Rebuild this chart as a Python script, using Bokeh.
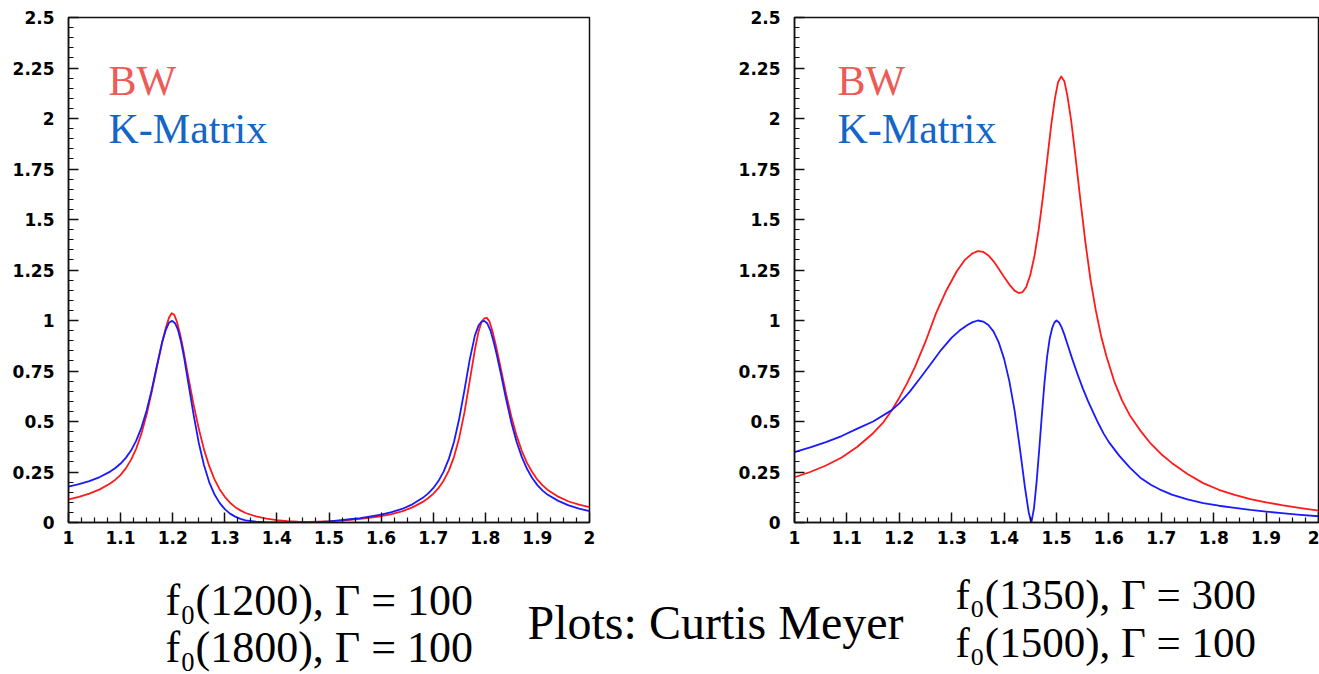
from bokeh.plotting import figure
from bokeh.models import Range1d, FixedTicker, PrintfTickFormatter
from bokeh.layouts import column, row
from bokeh.core.properties import value
from bokeh.embed import file_html
from bokeh.resources import INLINE

# ---------------- data ----------------
x_ticks = [1.0, 1.1, 1.2, 1.3, 1.4, 1.5, 1.6, 1.7, 1.8, 1.9, 2.0]
y_ticks = [0.0, 0.25, 0.5, 0.75, 1.0, 1.25, 1.5, 1.75, 2.0, 2.25, 2.5]

# Left panel: f0(1200), f0(1800), both Gamma = 100
left_bw_x = [1.00, 1.02, 1.04, 1.06, 1.08, 1.09, 1.10, 1.11, 1.12, 1.13,
             1.14, 1.15, 1.16, 1.17, 1.18, 1.187, 1.193, 1.198, 1.203, 1.208,
             1.214, 1.22, 1.23, 1.24, 1.25, 1.26, 1.27, 1.28, 1.29, 1.30,
             1.31, 1.32, 1.33, 1.34, 1.36, 1.38, 1.40, 1.42, 1.44, 1.46,
             1.48, 1.50, 1.52, 1.54, 1.56, 1.58, 1.60, 1.62, 1.64, 1.66,
             1.68, 1.69, 1.70, 1.71, 1.72, 1.73, 1.74, 1.75, 1.76, 1.77,
             1.78, 1.787, 1.793, 1.798, 1.803, 1.808, 1.814, 1.82, 1.83, 1.84,
             1.85, 1.86, 1.87, 1.88, 1.89, 1.90, 1.91, 1.92, 1.94, 1.96,
             1.98, 2.00]
left_bw_y = [0.114, 0.127, 0.143, 0.164, 0.193, 0.212, 0.236, 0.268, 0.31, 0.366,
             0.44, 0.535, 0.65, 0.775, 0.895, 0.965, 1.015, 1.036, 1.028, 0.995,
             0.935, 0.86, 0.72, 0.585, 0.465, 0.362, 0.28, 0.215, 0.165, 0.127,
             0.098, 0.076, 0.06, 0.047, 0.03, 0.019, 0.012, 0.007, 0.004, 0.003,
             0.004, 0.006, 0.009, 0.013, 0.018, 0.024, 0.031, 0.041, 0.055, 0.075,
             0.102, 0.12, 0.142, 0.17, 0.207, 0.257, 0.325, 0.42, 0.545, 0.70,
             0.855, 0.945, 0.995, 1.01, 1.013, 0.995, 0.945, 0.88, 0.76, 0.635,
             0.525, 0.43, 0.355, 0.295, 0.25, 0.212, 0.184, 0.161, 0.128, 0.104,
             0.088, 0.076]

left_km_x = [1.00, 1.02, 1.04, 1.06, 1.08, 1.09, 1.10, 1.11, 1.12, 1.13,
             1.14, 1.15, 1.16, 1.17, 1.18, 1.187, 1.193, 1.199, 1.205, 1.21,
             1.216, 1.222, 1.23, 1.24, 1.25, 1.26, 1.27, 1.28, 1.29, 1.30,
             1.31, 1.32, 1.33, 1.34, 1.36, 1.38, 1.40, 1.45, 1.47, 1.50,
             1.52, 1.54, 1.56, 1.58, 1.60, 1.62, 1.64, 1.66, 1.68, 1.69,
             1.70, 1.71, 1.72, 1.73, 1.74, 1.75, 1.76, 1.77, 1.78, 1.787,
             1.793, 1.798, 1.804, 1.81, 1.816, 1.822, 1.83, 1.84, 1.85, 1.86,
             1.87, 1.88, 1.89, 1.90, 1.91, 1.92, 1.94, 1.96, 1.98, 2.00]
left_km_y = [0.178, 0.19, 0.205, 0.225, 0.252, 0.27, 0.292, 0.32, 0.356, 0.405,
             0.47, 0.555, 0.66, 0.78, 0.895, 0.955, 0.99, 0.998, 0.985, 0.955,
             0.895, 0.815, 0.69, 0.535, 0.395, 0.285, 0.20, 0.14, 0.097, 0.066,
             0.044, 0.029, 0.018, 0.011, 0.004, 0.001, 0.0, 0.0, 0.001, 0.006,
             0.011, 0.016, 0.022, 0.03, 0.039, 0.051, 0.067, 0.09, 0.122, 0.143,
             0.17, 0.205, 0.252, 0.315, 0.40, 0.515, 0.655, 0.805, 0.925, 0.975,
             0.995, 0.998, 0.985, 0.95, 0.895, 0.83, 0.735, 0.61, 0.495, 0.40,
             0.325, 0.266, 0.22, 0.185, 0.158, 0.137, 0.107, 0.085, 0.069, 0.056]

# Right panel: f0(1350) Gamma = 300, f0(1500) Gamma = 100
right_bw_x = [1.00, 1.03, 1.06, 1.09, 1.12, 1.15, 1.17, 1.185, 1.20, 1.215,
              1.23, 1.25, 1.27, 1.29, 1.31, 1.325, 1.34, 1.35, 1.36, 1.37,
              1.38, 1.39, 1.40, 1.41, 1.42, 1.428, 1.435, 1.442, 1.45, 1.458,
              1.466, 1.474, 1.482, 1.49, 1.497, 1.503, 1.509, 1.515, 1.521, 1.528,
              1.535, 1.545, 1.555, 1.565, 1.575, 1.585, 1.595, 1.61, 1.625, 1.64,
              1.66, 1.68, 1.70, 1.72, 1.75, 1.78, 1.81, 1.84, 1.87, 1.90,
              1.93, 1.96, 2.00]
right_bw_y = [0.224, 0.25, 0.282, 0.322, 0.375, 0.442, 0.497, 0.553, 0.618, 0.69,
              0.77, 0.895, 1.035, 1.15, 1.245, 1.30, 1.333, 1.343, 1.34, 1.322,
              1.293, 1.255, 1.215, 1.178, 1.148, 1.136, 1.14, 1.165, 1.225, 1.32,
              1.45, 1.61, 1.79, 1.97, 2.10, 2.18, 2.208, 2.185, 2.11, 1.99,
              1.84, 1.61, 1.39, 1.20, 1.05, 0.925, 0.825, 0.70, 0.605, 0.53,
              0.455, 0.39, 0.338, 0.295, 0.24, 0.195, 0.162, 0.137, 0.116, 0.10,
              0.086, 0.074, 0.059]

right_km_x = [1.00, 1.03, 1.06, 1.09, 1.12, 1.15, 1.185, 1.20, 1.22, 1.24,
              1.26, 1.28, 1.30, 1.315, 1.33, 1.34, 1.35, 1.36, 1.37, 1.38,
              1.39, 1.40, 1.41, 1.42, 1.43, 1.44, 1.447, 1.452, 1.457, 1.462,
              1.467, 1.472, 1.477, 1.482, 1.487, 1.492, 1.496, 1.50, 1.505, 1.51,
              1.515, 1.52, 1.53, 1.54, 1.55, 1.56, 1.57, 1.58, 1.59, 1.60,
              1.62, 1.64, 1.66, 1.68, 1.70, 1.72, 1.75, 1.78, 1.81, 1.84,
              1.87, 1.90, 1.93, 1.96, 2.00]
right_km_y = [0.348, 0.372, 0.398, 0.428, 0.465, 0.50, 0.555, 0.59, 0.648, 0.715,
              0.785, 0.855, 0.915, 0.95, 0.978, 0.992, 1.0, 0.995, 0.978, 0.945,
              0.89, 0.81, 0.70, 0.555, 0.37, 0.17, 0.05, 0.0, 0.07, 0.20,
              0.36, 0.53, 0.69, 0.82, 0.91, 0.965, 0.99, 1.0, 0.99, 0.965,
              0.93, 0.89, 0.81, 0.735, 0.665, 0.602, 0.545, 0.49, 0.44, 0.398,
              0.33, 0.272, 0.222, 0.187, 0.16, 0.138, 0.114, 0.096, 0.083, 0.072,
              0.062, 0.054, 0.046, 0.039, 0.031]

legend_labels = ["BW", "K-Matrix"]
caption_left = ["f\u2080(1200), \u0393 = 100", "f\u2080(1800), \u0393 = 100"]
caption_mid = "Plots: Curtis Meyer"
caption_right = ["f\u2080(1350), \u0393 = 300", "f\u2080(1500), \u0393 = 100"]

RED = "#ff1a1a"
BLUE = "#1a1aff"
BW_TEXT = "#ec5b56"
KM_TEXT = "#1466c6"
TICK_FONT = "DejaVu Sans"
SERIF = "Liberation Serif"


def minor_between(ticks, n):
    out = []
    for a, b in zip(ticks[:-1], ticks[1:]):
        step = (b - a) / n
        out += [a + k * step for k in range(1, n)]
    return out


def panel(width, bl, br, bw_x, bw_y, km_x, km_y, label_dx):
    p = figure(width=width, height=560, x_range=Range1d(1, 2), y_range=Range1d(0, 2.5),
               output_backend="svg", toolbar_location=None,
               min_border_left=bl, min_border_right=br, min_border_top=17, min_border_bottom=38)
    p.grid.visible = False
    p.outline_line_color = "#111111"
    p.outline_line_width = 1.5
    p.background_fill_color = "white"
    p.border_fill_color = "white"

    p.xaxis.ticker = FixedTicker(ticks=x_ticks, minor_ticks=minor_between(x_ticks, 4))
    p.yaxis.ticker = FixedTicker(ticks=y_ticks, minor_ticks=minor_between(y_ticks, 5))
    for ax in (p.xaxis[0], p.yaxis[0]):
        ax.formatter = PrintfTickFormatter(format="%g")
        ax.major_tick_in = 10
        ax.major_tick_out = 0
        ax.minor_tick_in = 5
        ax.minor_tick_out = 0
        ax.axis_line_color = "#111111"
        ax.axis_line_width = 1.5
        ax.major_tick_line_color = "#111111"
        ax.major_tick_line_width = 1.5
        ax.minor_tick_line_color = "#111111"
        ax.minor_tick_line_width = 1.2
        ax.major_label_text_font = TICK_FONT
        ax.major_label_text_font_style = "bold"
        ax.major_label_text_font_size = "17px"
        ax.major_label_text_color = "#000000"
    p.yaxis.major_label_standoff = 14
    p.xaxis.major_label_standoff = 8

    p.line(bw_x, bw_y, line_color=RED, line_width=1.8, line_join="round")
    p.line(km_x, km_y, line_color=BLUE, line_width=1.8, line_join="round")

    p.text(x=[1 + label_dx, 1 + label_dx], y=[2.188, 1.948], text=legend_labels,
           text_color=[BW_TEXT, KM_TEXT], text_font=value(SERIF),
           text_font_size="42px", text_baseline="alphabetic", text_align="left")
    return p


p1 = panel(725, 68, 136, left_bw_x, left_bw_y, left_km_x, left_km_y, 40 / 521)
p2 = panel(594, 69, 1, right_bw_x, right_bw_y, right_km_x, right_km_y, 43 / 524)

p3 = figure(width=1319, height=114, x_range=Range1d(0, 1319), y_range=Range1d(674, 560),
            output_backend="svg", toolbar_location=None,
            x_axis_location=None, y_axis_location=None,
            min_border_left=0, min_border_right=0, min_border_top=0, min_border_bottom=0)
p3.grid.visible = False
p3.outline_line_color = None
p3.text(x=[165, 165], y=[600, 647], text=caption_left, text_font=value(SERIF),
        text_font_size="44px", text_baseline="alphabetic", text_align="left", text_color="#000000")
p3.text(x=[527], y=[622], text=[caption_mid], text_font=value(SERIF),
        text_font_size="48px", text_baseline="alphabetic", text_align="left", text_color="#000000")
p3.text(x=[955, 955], y=[594, 642], text=caption_right, text_font=value(SERIF),
        text_font_size="43px", text_baseline="alphabetic", text_align="left", text_color="#000000")

layout = column(row(p1, p2), p3)
open("out.html", "w").write(file_html(layout, INLINE))
